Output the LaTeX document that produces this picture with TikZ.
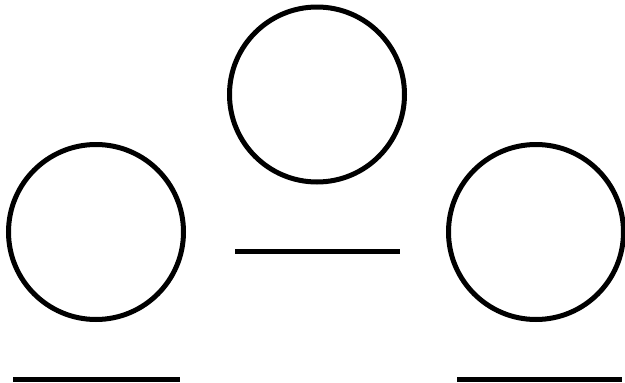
\documentclass[tikz,border=0pt]{standalone}
\begin{document}
\begin{tikzpicture}[x=1pt,y=-1pt,
  ring/.style={circle,draw=black,line width=5pt,minimum size=175pt,inner sep=0pt},
  bar/.style={draw=black,line width=5pt}]
\useasboundingbox[fill=white] (0,0) rectangle (625,383);
\node[ring] (top) at (317,94.5) {};
\node[ring] (left) at (96,232) {};
\node[ring] (right) at (536,232) {};
\coordinate (m1) at (235,251);
\coordinate (m2) at (400,251);
\coordinate (l1) at (13,379);
\coordinate (l2) at (180,379);
\coordinate (r1) at (457,379);
\coordinate (r2) at (622,379);
\draw[bar] (m1) -- (m2);
\draw[bar] (l1) -- (l2);
\draw[bar] (r1) -- (r2);
\end{tikzpicture}
\end{document}
